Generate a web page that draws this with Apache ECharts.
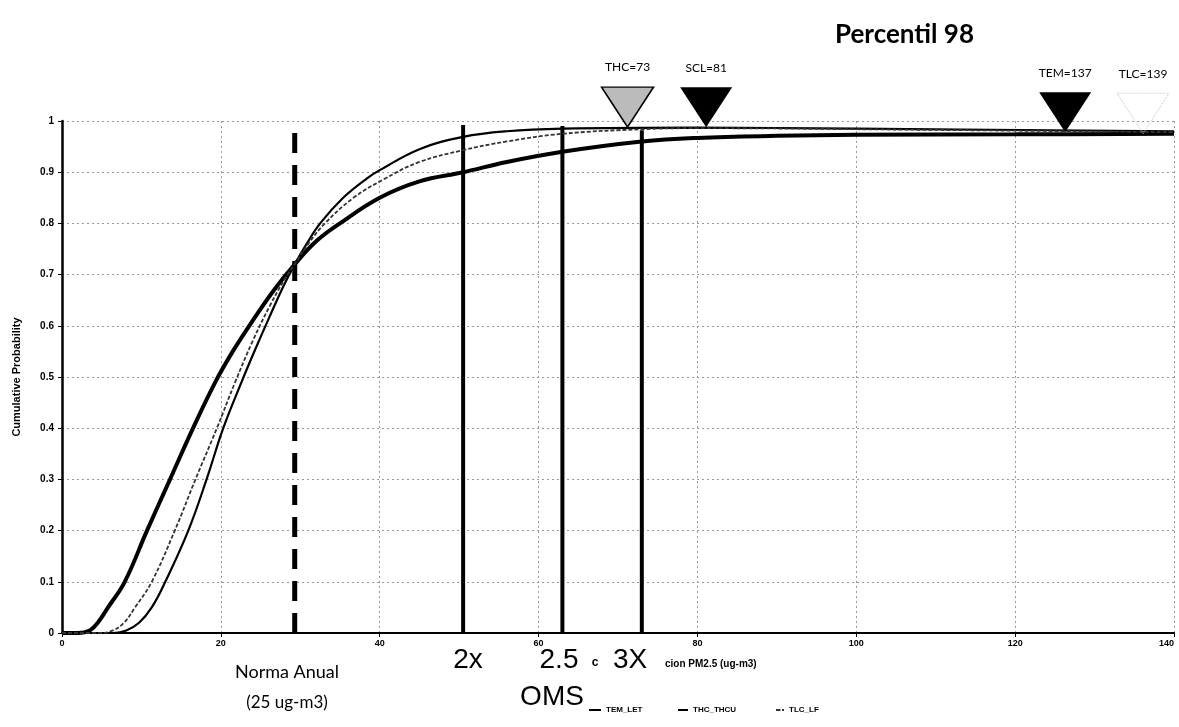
<!DOCTYPE html>
<html>
<head>
<meta charset="utf-8">
<script src="https://cdn.jsdelivr.net/npm/echarts@6/dist/echarts.min.js"></script>
<style>
html, body { margin: 0; padding: 0; background: #fff; }
#graph { width: 1179px; height: 727px; }
</style>
</head>
<body>
<div id="graph"></div>
<script>
// curves, [concentration, cumulative probability]
var temLet = [[0,0],[2,0],[3.5,0.005],[4.5,0.02],[5.8,0.05],[7.9,0.1],[10.7,0.2],[13.6,0.3],[16.5,0.4],[19.3,0.49],
    [21.5,0.55],[24,0.61],[26.7,0.67],[29.3,0.72],[32,0.765],[35,0.8],[40,0.85],[45,0.882],[50.5,0.9],[56,0.92],
    [63,0.94],[73,0.96],[80,0.967],[90,0.971],[100,0.973],[120,0.974],[140,0.975]];
var tlcLf = [[0,0],[5,0],[6.4,0.005],[7.8,0.02],[9.2,0.05],[11.3,0.1],[14.2,0.2],[16.8,0.3],[19.5,0.4],[21.8,0.49],
    [24,0.57],[26.2,0.64],[28,0.69],[29.3,0.72],[31,0.76],[33.1,0.8],[36.7,0.85],[40.5,0.886],[45,0.92],[50.5,0.943],
    [56,0.96],[63,0.975],[73,0.984],[80,0.986],[100,0.984],[140,0.978]];
var thcThcu = [[0,0],[6.5,0],[8.1,0.005],[9.7,0.02],[11.3,0.05],[13,0.1],[15.9,0.2],[18.2,0.3],[20.3,0.4],[22.6,0.49],
    [24.5,0.56],[26.2,0.62],[27.8,0.675],[29.3,0.72],[30.8,0.76],[32.5,0.8],[35.4,0.85],[38.4,0.888],[40,0.904],
    [45,0.945],[50.5,0.969],[56,0.98],[63,0.985],[80,0.987],[100,0.985],[140,0.98]];

var normaX = 29.3, normaTop = 0.99;
var omsX = [50.5, 63, 73];
var omsTop = [0.992, 0.99, 0.982];

var markerNames = ['THC=73', 'SCL=81', 'TEM=137', 'TLC=139'];
var markerX = [71.2, 81.1, 126.3, 136.1];
var markerY = [0.988, 0.988, 0.978, 0.976];

var dom = document.getElementById("graph");
var myChart = echarts.init(dom);

var series = [];
// vertical reference lines
series.push({
    type: 'line', silent: true, symbol: 'none', z: 3,
    data: [[normaX, 0], [normaX, normaTop]],
    lineStyle: { color: '#000', width: 5, type: [20, 12] }
});
omsX.forEach(function (x, i) {
    series.push({
        type: 'line', silent: true, symbol: 'none', z: 3,
        data: [[x, 0], [x, omsTop[i]]],
        lineStyle: { color: '#000', width: 4 }
    });
});
series.push({
    name: 'TEM_LET', type: 'line', symbol: 'none', smooth: 0.4, z: 5,
    data: temLet, lineStyle: { color: '#000', width: 4 }, itemStyle: { color: '#000' }
});
series.push({
    name: 'THC_THCU', type: 'line', symbol: 'none', smooth: 0.4, z: 5,
    data: thcThcu, lineStyle: { color: '#000', width: 2.2 }, itemStyle: { color: '#000' }
});
series.push({
    name: 'TLC_LF', type: 'line', symbol: 'none', smooth: 0.4, z: 5,
    data: tlcLf, lineStyle: { color: '#333', width: 1.8, type: [4, 2] }, itemStyle: { color: '#333' }
});

var markerStyles = [
    { color: '#bbb', borderColor: '#000', borderWidth: 1.5, opacity: 1 },
    { color: '#000', opacity: 1 },
    { color: '#000', opacity: 1 },
    { color: 'rgba(0,0,0,0)', borderColor: '#ccc', borderWidth: 1, borderType: 'dotted', opacity: 1 }
];
series.push({
    type: 'scatter', silent: true, clip: false, z: 6,
    symbol: 'path://M0,0L10,0L5,10Z',
    symbolSize: [52, 40],
    symbolOffset: [0, -20],
    data: markerX.map(function (x, i) {
        return { name: markerNames[i], value: [x, markerY[i]], itemStyle: markerStyles[i] };
    }),
    label: {
        show: true, position: 'top', distance: 13,
        formatter: '{b}', color: '#000', fontSize: 12, fontFamily: 'Lato'
    }
});

function legendItem(name, left, w) {
    return {
        data: [name], left: left, top: 701, itemWidth: w, itemHeight: 2, itemGap: 4,
        textStyle: { fontSize: 8, fontWeight: 'bold', color: '#000', fontFamily: 'Liberation Sans' }
    };
}

var txt = function (s, x, y, size, weight, family) {
    return {
        type: 'text', x: x, y: y,
        style: {
            text: s, fill: '#000', fontSize: size, fontWeight: weight || 'normal',
            fontFamily: family || 'Liberation Sans', align: 'center', verticalAlign: 'middle'
        }
    };
};

option = {
    animation: false,
    backgroundColor: '#fff',
    title: {
        text: 'Percentil 98', left: 830, top: 17,
        textStyle: { fontSize: 26, fontWeight: 'bold', color: '#000', fontFamily: 'Lato' }
    },
    legend: [legendItem('TEM_LET', 583, 12), legendItem('THC_THCU', 672, 10), legendItem('TLC_LF', 770, 8)],
    grid: { left: 62, right: 5, top: 121, bottom: 94, outerBoundsMode: 'none' },
    xAxis: {
        type: 'value', min: 0, max: 140, interval: 20,
        axisLine: { lineStyle: { color: '#000', width: 2 } },
        axisTick: { show: true, length: 4, lineStyle: { color: '#000' } },
        axisLabel: {
            color: '#000', fontSize: 9, fontWeight: 'bold', margin: 6, showMaxLabel: true,
            alignMaxLabel: 'right', fontFamily: 'Liberation Sans'
        },
        splitLine: { show: true, lineStyle: { color: '#999', type: [2, 3], width: 1 } }
    },
    yAxis: {
        type: 'value', min: 0, max: 1, interval: 0.1,
        name: 'Cumulative Probability', nameLocation: 'middle', nameGap: 40,
        nameTextStyle: { color: '#000', fontSize: 11, fontWeight: 'bold', fontFamily: 'Liberation Sans' },
        axisLine: { show: true, lineStyle: { color: '#000', width: 2.5 } },
        axisTick: { show: true, length: 4, lineStyle: { color: '#000' } },
        axisLabel: {
            color: '#000', fontSize: 10, fontWeight: 'bold', margin: 8, fontFamily: 'Liberation Sans',
            formatter: function (v) { return v === 0 ? '0' : v === 1 ? '1' : v.toFixed(1); }
        },
        splitLine: { show: true, lineStyle: { color: '#999', type: [2, 3], width: 1 } }
    },
    graphic: [
        txt('Norma Anual', 287, 672, 18, 'normal', 'Lato'),
        txt('(25 ug-m3)', 287, 703, 17, 'normal', 'Lato'),
        txt('2x', 468, 660, 28),
        txt('2.5', 559, 660, 28),
        txt('c', 595, 663, 12, 'bold'),
        txt('3X', 630, 660, 28),
        {
            type: 'text', x: 665, y: 664,
            style: { text: 'cion PM2.5 (ug-m3)', fill: '#000', fontSize: 10, fontWeight: 'bold',
                fontFamily: 'Liberation Sans', align: 'left', verticalAlign: 'middle' }
        },
        txt('OMS', 552, 697, 28)
    ],
    series: series
};
if (option && typeof option === "object") {
    myChart.setOption(option, true);
}
</script>
</body>
</html>
